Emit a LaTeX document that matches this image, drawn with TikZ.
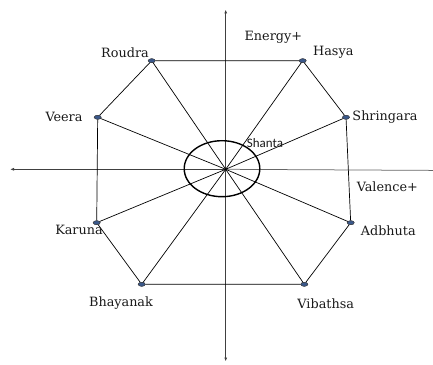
\documentclass[tikz,border=0pt]{standalone}
\usepackage{fontspec}
\setmainfont{DejaVu Serif}
\newfontfamily\shantafont{Carlito}
\usetikzlibrary{arrows.meta,shapes.geometric}
\definecolor{dotblue}{RGB}{58,88,138}

\begin{document}
\begin{tikzpicture}[x=1pt,y=1pt,line width=.7pt,font=\fontsize{12.8}{14}\selectfont,
  rasa/.style={ellipse,draw=black!75,fill=dotblue,line width=.4pt,minimum width=7pt,minimum height=4pt,inner sep=0pt},
  lbl/.style={inner sep=1pt,text=black!90},
  axis/.style={line width=.75pt,draw=black!75}]
\useasboundingbox (0,0) rectangle (433,364);
% axes
\coordinate (O) at (225.7,194.7);
\coordinate (top) at (225.7,354.5);
\coordinate (bot) at (225.7,2.5);
\coordinate (lft) at (10,194.7);
\coordinate (rgt) at (433,193.6);
\draw[axis,-{Latex[length=4pt,width=3pt]}] (O)--(top);
\draw[axis,-{Latex[length=4pt,width=3pt]}] (O)--(bot);
\draw[axis,-{Latex[length=4pt,width=3pt]}] (O)--(lft);
\draw[axis,draw=black!60] (O)--(rgt);
% Shanta
\draw[line width=1.4pt] (222,195.3) ellipse (37.8 and 28);
% rasas
\node[rasa] (roudra) at (151.7,303.3) {};
\node[rasa] (hasya) at (302.7,303.3) {};
\node[rasa] (shringara) at (346,246.7) {};
\node[rasa] (adbhuta) at (350.7,141.3) {};
\node[rasa] (vibathsa) at (304.3,79.7) {};
\node[rasa] (bhayanak) at (141.7,79.7) {};
\node[rasa] (karuna) at (96.7,141.3) {};
\node[rasa] (veera) at (97.7,246.7) {};
\draw (roudra)--(hasya)--(shringara)--(adbhuta)--(vibathsa)--(bhayanak)--(karuna)--(veera)--(roudra);
\foreach \r in {roudra,hasya,shringara,adbhuta,vibathsa,bhayanak,karuna,veera}
  \draw (\r.center)--(O);
\foreach \r in {roudra,hasya,shringara,adbhuta,vibathsa,bhayanak,karuna,veera}
  \node[rasa] at (\r) {};
% labels
\node[lbl] (energy) at (273.3,326.7) {Energy+};
\node[lbl] (valence) at (387.3,177.3) {Valence+};
\node[lbl] (lroudra) at (125,311.7) {Roudra};
\node[lbl] (lhasya) at (333.3,311.7) {Hasya};
\node[lbl] (lveera) at (64,247.3) {Veera};
\node[lbl] (lshringara) at (385,247.3) {Shringara};
\node[lbl] (lkaruna) at (79,134) {Karuna};
\node[lbl] (ladbhuta) at (388.3,133.3) {Adbhuta};
\node[lbl] (lbhayanak) at (121,60.7) {Bhayanak};
\node[lbl] (lvibathsa) at (325.7,60.7) {Vibathsa};
\node[lbl,font=\shantafont\fontsize{13}{15}\selectfont] (lshanta) at (265,221.3) {Shanta};
\end{tikzpicture}
\end{document}
